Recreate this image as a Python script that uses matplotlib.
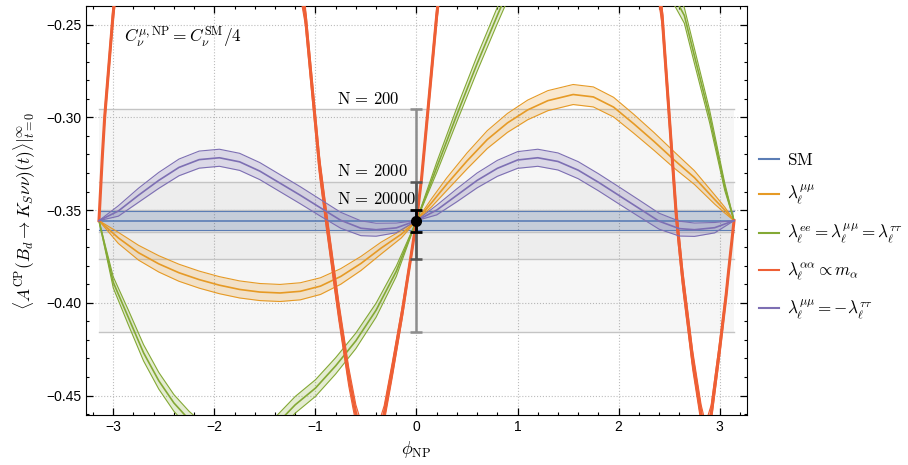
import numpy as np
import matplotlib.pyplot as plt

plt.rcParams['mathtext.fontset'] = 'cm'
plt.rcParams['font.family'] = ['Liberation Sans', 'DejaVu Sans']

# 数据
sm_value = -0.3557
sm_err = 0.0052
n_labels = ['200', '2000', '20000']
n_err = [0.0600, 0.0209, 0.0059]

phi_orange = [-3.1416, -2.95, -2.75, -2.55, -2.35, -2.15, -1.95, -1.75, -1.55, -1.35, -1.15, -0.95,
              -0.75, -0.55, -0.35, -0.15, 0.0, 0.15, 0.30, 0.50, 0.70, 0.90, 1.10, 1.30, 1.55, 1.75,
              1.95, 2.15, 2.35, 2.55, 2.75, 2.95, 3.05, 3.1416]
y_orange = [-0.3557, -0.3650, -0.3730, -0.3790, -0.3838, -0.3875, -0.3905, -0.3928, -0.3942, -0.3947,
            -0.3938, -0.3910, -0.3858, -0.3788, -0.3705, -0.3630, -0.3557, -0.3460, -0.3360, -0.3235,
            -0.3120, -0.3030, -0.2960, -0.2910, -0.2877, -0.2890, -0.2945, -0.3035, -0.3130, -0.3230,
            -0.3325, -0.3443, -0.3500, -0.3557]
err_orange = [0, 0.0030, 0.0040, 0.0044, 0.0046, 0.0046, 0.0046, 0.0046, 0.0046, 0.0046, 0.0046, 0.0045,
              0.0042, 0.0038, 0.0032, 0.0020, 0, 0.0022, 0.0034, 0.0043, 0.0048, 0.0051, 0.0053, 0.0054,
              0.0054, 0.0054, 0.0053, 0.0051, 0.0048, 0.0044, 0.0037, 0.0025, 0.0016, 0]

phi_green = [-3.1416, -3.0, -2.85, -2.70, -2.55, -2.40, -2.25, -2.0, -1.75, -1.5, -1.2, -1.0, -0.8,
             -0.6, -0.4, -0.2, 0.0, 0.2, 0.4, 0.6, 0.8, 1.0, 1.6, 2.2, 2.5, 2.65, 2.75, 2.9, 3.05, 3.1416]
y_green = [-0.3557, -0.3890, -0.4080, -0.4270, -0.4420, -0.4540, -0.4630, -0.4750, -0.4800, -0.4720,
           -0.4550, -0.4460, -0.4340, -0.4205, -0.4040, -0.3830, -0.3557, -0.3270, -0.2985, -0.2710,
           -0.2450, -0.2200, -0.1700, -0.2000, -0.2300, -0.2451, -0.2670, -0.2995, -0.3375, -0.3557]
err_green = [0, 0.0030, 0.0040, 0.0044, 0.0045, 0.0045, 0.0045, 0.0045, 0.0045, 0.0045, 0.0045, 0.0045,
             0.0044, 0.0042, 0.0038, 0.0028, 0, 0.0028, 0.0038, 0.0042, 0.0044, 0.0045, 0.0045, 0.0045,
             0.0044, 0.0042, 0.0040, 0.0034, 0.0020, 0]

phi_red = [-3.1416, -3.108, -3.085, -3.003, -2.9, -2.0, -1.4, -1.10, -0.96, -0.89, -0.77, -0.67, -0.60,
           -0.46, -0.32, -0.24, -0.14, -0.04, 0.0, 0.05, 0.11, 0.20, 0.40, 1.5, 2.2, 2.43, 2.57, 2.634,
           2.733, 2.816, 2.86, 2.915, 2.997, 3.063, 3.086, 3.1416]
y_red = [-0.3557, -0.3208, -0.2998, -0.2451, -0.19, -0.05, -0.15, -0.2451, -0.3260, -0.3557, -0.4040,
         -0.4400, -0.4600, -0.4850, -0.4600, -0.4363, -0.4048, -0.3698, -0.3557, -0.3330, -0.2980, -0.2450,
         -0.15, -0.05, -0.16, -0.2451, -0.3527, -0.3873, -0.4311, -0.4600, -0.4700, -0.4600, -0.4258,
         -0.3960, -0.3838, -0.3557]
err_red = [0, 0.0025, 0.0033, 0.0045, 0.005, 0.005, 0.005, 0.005, 0.005, 0.005, 0.005, 0.005, 0.005,
           0.005, 0.0045, 0.0040, 0.0032, 0.0015, 0, 0.0018, 0.0030, 0.0040, 0.005, 0.005, 0.005, 0.005,
           0.005, 0.005, 0.005, 0.005, 0.005, 0.0048, 0.0040, 0.0025, 0.0020, 0]

phi_purple = [-3.1416, -2.95, -2.75, -2.55, -2.35, -2.15, -1.95, -1.75, -1.55, -1.35, -1.15, -0.95,
              -0.75, -0.55, -0.40, -0.20, 0.0, 0.20, 0.40, 0.60, 0.80, 1.00, 1.20, 1.40, 1.60, 1.80,
              2.00, 2.20, 2.40, 2.60, 2.75, 2.95, 3.1416]
y_purple = [-0.3557, -0.3505, -0.3420, -0.3340, -0.3270, -0.3228, -0.3218, -0.3240, -0.3290, -0.3355,
            -0.3420, -0.3488, -0.3555, -0.3598, -0.3606, -0.3596, -0.3557, -0.3500, -0.3420, -0.3340,
            -0.3275, -0.3230, -0.3218, -0.3238, -0.3285, -0.3350, -0.3420, -0.3490, -0.3560, -0.3600,
            -0.3606, -0.3595, -0.3557]
err_purple = [0, 0.0028, 0.0038, 0.0043, 0.0045, 0.0046, 0.0046, 0.0046, 0.0046, 0.0046, 0.0046, 0.0045,
              0.0043, 0.0040, 0.0035, 0.0026, 0, 0.0026, 0.0035, 0.0040, 0.0043, 0.0045, 0.0046, 0.0046,
              0.0046, 0.0046, 0.0046, 0.0045, 0.0043, 0.0040, 0.0036, 0.0028, 0]

phi_range = [-np.pi, np.pi]

fig = plt.figure(figsize=(9.08, 4.65), dpi=100)
ax = fig.add_axes([0.0947, 0.1075, 0.7280, 0.8795])

# N 事例数对应的灰色区域
for lab, e in zip(n_labels, n_err):
    ax.fill_between(phi_range, sm_value - e, sm_value + e, color='black', alpha=0.035, lw=0, zorder=1)
    ax.plot(phi_range, [sm_value + e] * 2, color='#c4c4c4', lw=1, zorder=1)
    ax.plot(phi_range, [sm_value - e] * 2, color='#c4c4c4', lw=1, zorder=1)
    ax.text(-0.79, sm_value + e + 0.0015, r'$\mathrm{N}\,=\,' + lab + '$', fontsize=12,
            va='bottom', ha='left', zorder=5)


def band(phi, y, err, color, label, lw_c=1.2):
    phi = np.array(phi)
    y = np.array(y)
    err = np.array(err)
    ax.fill_between(phi, y - err, y + err, color=color, alpha=0.22, lw=0, zorder=2)
    ax.plot(phi, y - err, color=color, lw=0.8, zorder=3)
    ax.plot(phi, y + err, color=color, lw=0.8, zorder=3)
    ax.plot(phi, y, color=color, lw=lw_c, zorder=3, label=label)


band(phi_range, [sm_value] * 2, [sm_err] * 2, '#5b7db5', r'$\mathrm{SM}$')
band(phi_orange, y_orange, err_orange, '#e69a25', r'$\lambda_\ell^{\mu\mu}$')
band(phi_green, y_green, err_green, '#84a935', r'$\lambda_\ell^{ee} = \lambda_\ell^{\mu\mu} = \lambda_\ell^{\tau\tau}$')
band(phi_red, y_red, err_red, '#ee5f35', r'$\lambda_\ell^{\alpha\alpha} \propto m_\alpha$', lw_c=2.2)
band(phi_purple, y_purple, err_purple, '#7d6fb3', r'$\lambda_\ell^{\mu\mu} = -\lambda_\ell^{\tau\tau}$')

# 误差棒
bar_colors = ['#8c8c8c', '#555555', 'black']
bar_lw = [1.8, 1.8, 2.0]
for e, c, w in zip(n_err, bar_colors, bar_lw):
    ax.errorbar([0], [sm_value], yerr=[e], color=c, lw=w, capsize=4, capthick=w, zorder=6)
ax.plot([0], [sm_value], 'o', color='black', ms=7, zorder=7)

ax.text(0.058, 0.955, r'$C_\nu^{\mu,\mathrm{NP}} = C_\nu^{\mathrm{SM}}/4$', transform=ax.transAxes,
        fontsize=12.5, va='top', ha='left')

ax.set_xlim(-3.27, 3.27)
ax.set_ylim(-0.4605, -0.2451)
ax.set_xticks([-3, -2, -1, 0, 1, 2, 3])
ax.set_xticks(np.arange(-3.2, 3.3, 0.2), minor=True)
ax.set_yticks([-0.45, -0.40, -0.35, -0.30, -0.25])
ax.set_yticks(np.arange(-0.46, -0.24, 0.01), minor=True)
ax.set_yticklabels(['\u22120.45', '\u22120.40', '\u22120.35', '\u22120.30', '\u22120.25'])
ax.set_xticklabels(['\u22123', '\u22122', '\u22121', '0', '1', '2', '3'])
ax.tick_params(which='both', direction='in', top=True, right=True, labelsize=10)
ax.tick_params(which='major', length=5, width=0.9)
ax.tick_params(which='minor', length=2.5, width=0.8)
ax.grid(True, which='major', ls=':', color='#bdbdbd', lw=0.8)
ax.set_axisbelow(True)

ax.set_xlabel(r'$\phi_{\mathrm{NP}}$', fontsize=13, labelpad=4)
ax.set_ylabel(r'$\langle A^{\mathrm{CP}}(B_d \to K_S\nu\nu)(t)\rangle|_{t=0}^{\infty}$', fontsize=12.5,
              labelpad=6)

leg = ax.legend(loc='center left', bbox_to_anchor=(1.0076, 0.435), frameon=False, fontsize=12.3,
                handlelength=1.2, labelspacing=0.85, handletextpad=0.45, borderaxespad=0)
for h in leg.legend_handles:
    h.set_linewidth(1.5)

fig.savefig('out.png', dpi=100)
